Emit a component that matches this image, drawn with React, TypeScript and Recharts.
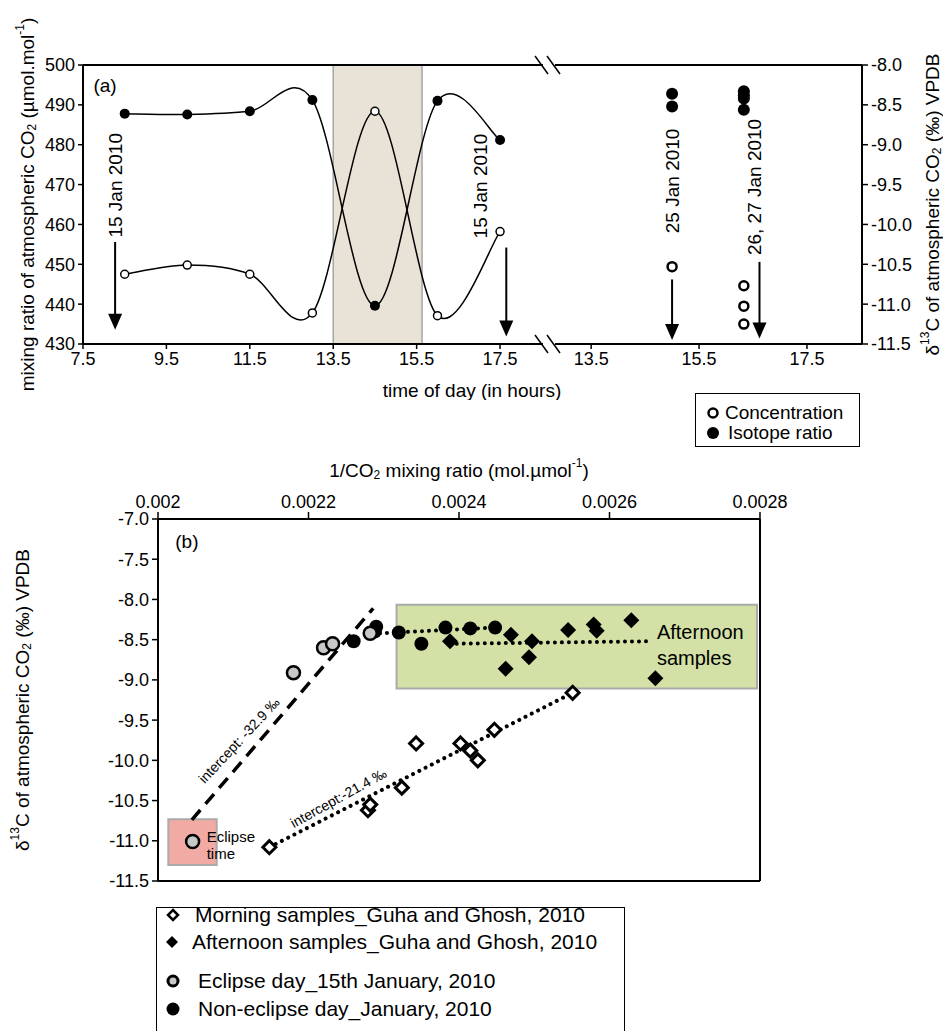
import React from 'react'
import {
  ComposedChart,
  Line,
  Scatter,
  XAxis,
  YAxis,
  ReferenceArea,
  ReferenceLine,
} from 'recharts'

const FONT = '"Liberation Sans", Arial, Helvetica, sans-serif'

// panel (a): eclipse day, 15 Jan 2010
const hours15 = [8.5, 10, 11.5, 13, 14.5, 16, 17.5]
const conc15 = [447.5, 449.8, 447.5, 437.8, 488.4, 437.1, 458.2]
const iso15 = [-8.61, -8.62, -8.58, -8.44, -11.02, -8.45, -8.94]

// panel (a), right of the axis break: 25 Jan and 26/27 Jan
const hoursLate = [15.0, 16.33]
const concLate = [[449.4], [444.6, 439.5, 435.0]]
const isoLate = [[-8.36, -8.52], [-8.33, -8.38, -8.42, -8.56]]

const eclipseWindow = [13.5, 15.63]

const hourTicksLeft = [7.5, 9.5, 11.5, 13.5, 15.5, 17.5]
const hourTicksRight = [13.5, 15.5, 17.5]
const concTicks = [430, 440, 450, 460, 470, 480, 490, 500]
const isoTicks = [-8, -8.5, -9, -9.5, -10, -10.5, -11, -11.5]

// date arrows and labels (time, conc-axis value)
const arrowsLeft = [
  { t: 8.27, from: 455.6, to: 433.6 },
  { t: 17.65, from: 454.2, to: 431.9 },
]
const notesLeft = [
  { t: 8.29, v: 456.7, text: '15 Jan 2010' },
  { t: 17.03, v: 456.5, text: '15 Jan 2010' },
]
const arrowsRight = [
  { t: 15.0, from: 446.2, to: 431.0 },
  { t: 16.62, from: 450.6, to: 431.4 },
]
const notesRight = [
  { t: 15.0, v: 457.8, text: '25 Jan 2010' },
  { t: 16.53, v: 452.3, text: '26, 27 Jan 2010' },
]

// panel (b): 1/CO2 vs delta13C
const morningSamples = [
  [0.002148, -11.08], [0.002279, -10.62], [0.002282, -10.55], [0.002324, -10.34],
  [0.002343, -9.79], [0.002402, -9.79], [0.002415, -9.88], [0.002425, -10.0],
  [0.002447, -9.62], [0.002551, -9.16],
]
const afternoonSamples = [
  [0.002388, -8.52], [0.002469, -8.44], [0.002462, -8.86], [0.002497, -8.52],
  [0.002493, -8.72], [0.002545, -8.38], [0.002579, -8.31], [0.002583, -8.39],
  [0.002629, -8.26], [0.002661, -8.98],
]
const eclipseDay = [
  [0.002046, -11.01], [0.00218, -8.91], [0.00222, -8.6], [0.002232, -8.55],
  [0.002282, -8.42],
]
const nonEclipseDay = [
  [0.00226, -8.52], [0.00229, -8.34], [0.002288, -8.4], [0.00232, -8.41],
  [0.00235, -8.55], [0.002382, -8.35], [0.002415, -8.36], [0.002448, -8.35],
]

const eclipseFit = [[0.002045, -10.74], [0.002286, -8.11]]
const morningFit = [[0.002148, -11.08], [0.002551, -9.16]]
const afternoonFitUpper = [[0.002295, -8.42], [0.002448, -8.35]]
const afternoonFitLower = [[0.002397, -8.55], [0.002653, -8.52]]

const invTicks = [0.002, 0.0022, 0.0024, 0.0026, 0.0028]
const deltaTicks = [-7, -7.5, -8, -8.5, -9, -9.5, -10, -10.5, -11, -11.5]

const afternoonBox = { x1: 0.002317, x2: 0.002796, y1: -9.108, y2: -8.066 }
const eclipseBox = { x1: 0.0020137, x2: 0.002078, y1: -11.3, y2: -10.733 }

const interceptNotes = [
  { x: 0.0021076, y: -9.75, text: 'intercept:   -32.9 ‰', angle: -47 },
  { x: 0.0022396, y: -10.466, text: 'intercept:-21.4 ‰', angle: -29 },
]
const boxNotes = [
  { x: 0.0020647, y: -10.945, text: 'Eclipse' },
  { x: 0.0020647, y: -11.157, text: 'time' },
]
const afternoonNotes = [
  { x: 0.002663, y: -8.405, text: 'Afternoon' },
  { x: 0.002663, y: -8.728, text: 'samples' },
]

const toXY = (rows: number[][]) => rows.map(([x, y]) => ({ x, y }))
const toTV = (ts: number[], vs: number[]) => ts.map((t, i) => ({ t, v: vs[i] }))

// spreadsheet-style smoothed line (Catmull-Rom bezier through the points)
function smoothCurve(context: any) {
  let pts: number[][] = []
  return {
    areaStart() {},
    areaEnd() {},
    lineStart() {
      pts = []
    },
    lineEnd() {
      const n = pts.length
      if (!n) return
      context.moveTo(pts[0][0], pts[0][1])
      for (let i = 0; i < n - 1; i++) {
        const p0 = pts[Math.max(i - 1, 0)]
        const p1 = pts[i]
        const p2 = pts[i + 1]
        const p3 = pts[Math.min(i + 2, n - 1)]
        context.bezierCurveTo(
          p1[0] + (p2[0] - p0[0]) / 6,
          p1[1] + (p2[1] - p0[1]) / 6,
          p2[0] - (p3[0] - p1[0]) / 6,
          p2[1] - (p3[1] - p1[1]) / 6,
          p2[0],
          p2[1],
        )
      }
    },
    point(x: number, y: number) {
      pts.push([+x, +y])
    },
  }
}

const axisLine = { stroke: '#000', strokeWidth: 2 }
const tickLine = { stroke: '#000', strokeWidth: 1.5 }
const tick = { fill: '#000', fontSize: 18, fontFamily: FONT }

const openDot = (p: any) => (
  <circle key={`o${p.index}`} cx={p.cx} cy={p.cy} r={4} fill="#fff" stroke="#000" strokeWidth={1.5} />
)
const fullDot = (p: any) => (
  <circle key={`f${p.index}`} cx={p.cx} cy={p.cy} r={5} fill="#000" />
)
const openRing = (p: any) => (
  <circle cx={p.cx} cy={p.cy} r={4.5} fill="#fff" stroke="#000" strokeWidth={2.5} />
)
const fullRing = (p: any) => <circle cx={p.cx} cy={p.cy} r={6} fill="#000" />
const arrowHead = (p: any) => (
  <path d={`M${p.cx},${p.cy} L${p.cx - 7},${p.cy - 16} L${p.cx + 7},${p.cy - 16} Z`} fill="#000" />
)
const verticalNote = (p: any) => (
  <text
    x={p.cx}
    y={p.cy}
    transform={`rotate(-90 ${p.cx} ${p.cy})`}
    textAnchor="start"
    dominantBaseline="central"
    fontSize={19}
    fontFamily={FONT}
    fill="#000"
  >
    {p.payload.text}
  </text>
)
const panelTag = (p: any) => (
  <text x={p.cx} y={p.cy} dominantBaseline="central" fontSize={19} fontFamily={FONT} fill="#000">
    {p.payload.text}
  </text>
)
const smallNote = (p: any) => (
  <text x={p.cx} y={p.cy} dominantBaseline="central" fontSize={15} fontFamily={FONT} fill="#000">
    {p.payload.text}
  </text>
)
const largeNote = (p: any) => (
  <text x={p.cx} y={p.cy} dominantBaseline="central" fontSize={20} fontFamily={FONT} fill="#000">
    {p.payload.text}
  </text>
)
const slantNote = (p: any) => (
  <text
    x={p.cx}
    y={p.cy}
    transform={`rotate(${p.payload.angle} ${p.cx} ${p.cy})`}
    textAnchor="middle"
    dominantBaseline="central"
    fontSize={14}
    fontFamily={FONT}
    fill="#000"
  >
    {p.payload.text}
  </text>
)
const openDiamond = (p: any) => (
  <path
    d={`M${p.cx},${p.cy - 6.5} L${p.cx + 6.5},${p.cy} L${p.cx},${p.cy + 6.5} L${p.cx - 6.5},${p.cy} Z`}
    fill="#fff"
    stroke="#000"
    strokeWidth={3}
  />
)
const fullDiamond = (p: any) => (
  <path
    d={`M${p.cx},${p.cy - 8} L${p.cx + 8},${p.cy} L${p.cx},${p.cy + 8} L${p.cx - 8},${p.cy} Z`}
    fill="#000"
  />
)
const grayCircle = (p: any) => (
  <circle cx={p.cx} cy={p.cy} r={6.5} fill="#c8c8c8" stroke="#000" strokeWidth={2.5} />
)
const blackCircle = (p: any) => <circle cx={p.cx} cy={p.cy} r={7} fill="#000" />

function ConcTitle({ viewBox }: any) {
  const x = viewBox.x + 27
  const y = viewBox.y + viewBox.height / 2
  return (
    <text x={x} y={y} transform={`rotate(-90 ${x} ${y})`} textAnchor="middle" dominantBaseline="central" fontSize={19} fontFamily={FONT} fill="#000">
      mixing ratio of atmospheric CO<tspan dy={5} fontSize={12}>2</tspan>
      <tspan dy={-5}> (µmol.mol</tspan>
      <tspan dy={-7} fontSize={12}>-1</tspan>
      <tspan dy={7}>)</tspan>
    </text>
  )
}

function DeltaTitle({ viewBox, dx }: any) {
  const x = viewBox.x + dx
  const y = viewBox.y + viewBox.height / 2
  return (
    <text x={x} y={y} transform={`rotate(-90 ${x} ${y})`} textAnchor="middle" dominantBaseline="central" fontSize={19} fontFamily={FONT} fill="#000">
      δ<tspan dy={-7} fontSize={12}>13</tspan>
      <tspan dy={7}>C of atmospheric CO</tspan>
      <tspan dy={5} fontSize={12}>2</tspan>
      <tspan dy={-5}> (‰) VPDB</tspan>
    </text>
  )
}

function InvTitle({ viewBox }: any) {
  const x = viewBox.x + viewBox.width / 2
  const y = viewBox.y - 19
  return (
    <text x={x} y={y} textAnchor="middle" dominantBaseline="central" fontSize={19} fontFamily={FONT} fill="#000">
      1/CO<tspan dy={5} fontSize={12}>2</tspan>
      <tspan dy={-5}> mixing ratio (mol.µmol</tspan>
      <tspan dy={-7} fontSize={12}>-1</tspan>
      <tspan dy={7}>)</tspan>
    </text>
  )
}

function LegendDot({ kind }: { kind: string }) {
  return (
    <svg width={20} height={20} style={{ position: 'absolute', left: -10, top: -10 }}>
      {kind === 'open' && <circle cx={10} cy={10} r={4.5} fill="#fff" stroke="#000" strokeWidth={2.5} />}
      {kind === 'full' && <circle cx={10} cy={10} r={6} fill="#000" />}
      {kind === 'openDiamond' && <path d="M10,5 L15,10 L10,15 L5,10 Z" fill="#fff" stroke="#000" strokeWidth={2.5} />}
      {kind === 'fullDiamond' && <path d="M10,4 L16,10 L10,16 L4,10 Z" fill="#000" />}
      {kind === 'gray' && <circle cx={10} cy={10} r={5} fill="#c8c8c8" stroke="#000" strokeWidth={3} />}
      {kind === 'black' && <circle cx={10} cy={10} r={6.5} fill="#000" />}
    </svg>
  )
}

function LegendRow({ kind, label, mx, tx, y, size }: any) {
  return (
    <>
      <div style={{ position: 'absolute', left: mx, top: y }}>
        <LegendDot kind={kind} />
      </div>
      <div style={{ position: 'absolute', left: tx, top: y - size * 0.6, fontSize: size, lineHeight: `${size * 1.2}px`, whiteSpace: 'nowrap' }}>
        {label}
      </div>
    </>
  )
}

export default function App() {
  const concPts = toTV(hours15, conc15)
  const isoPts = toTV(hours15, iso15)
  const concLatePts = hoursLate.flatMap((t, i) => concLate[i].map((v) => ({ t, v })))
  const isoLatePts = hoursLate.flatMap((t, i) => isoLate[i].map((v) => ({ t, v })))

  return (
    <div
      style={{
        position: 'absolute',
        left: 0,
        top: 0,
        width: 943,
        height: 1031,
        overflow: 'hidden',
        background: '#fff',
        fontFamily: FONT,
        color: '#000',
      }}
    >
      {/* panel (a), before the break */}
      <div style={{ position: 'absolute', left: 0, top: 0 }}>
        <ComposedChart width={560} height={400} margin={{ top: 65, right: 17, bottom: 26, left: 0 }}>
          <XAxis
            type="number"
            dataKey="t"
            domain={[7.5, 18.53]}
            ticks={hourTicksLeft}
            interval={0}
            allowDataOverflow
            height={30}
            tickSize={5}
            tickMargin={3}
            axisLine={axisLine}
            tickLine={tickLine}
            tick={tick}
          />
          <YAxis
            yAxisId="conc"
            type="number"
            dataKey="v"
            domain={[430, 500]}
            ticks={concTicks}
            interval={0}
            allowDataOverflow
            width={83}
            tickSize={5}
            tickMargin={3}
            axisLine={axisLine}
            tickLine={tickLine}
            tick={tick}
            label={<ConcTitle />}
          />
          <YAxis yAxisId="iso" type="number" dataKey="v" domain={[-11.5, -8]} allowDataOverflow hide />
          <ReferenceArea
            yAxisId="conc"
            x1={eclipseWindow[0]}
            x2={eclipseWindow[1]}
            y1={430}
            y2={500}
            fill="#e8e2d7"
            fillOpacity={1}
            stroke="#a6a6a6"
            strokeWidth={1.5}
          />
          <ReferenceLine yAxisId="conc" y={500} stroke="#000" strokeWidth={2} />
          {arrowsLeft.map((a, i) => (
            <ReferenceLine
              key={`al${i}`}
              yAxisId="conc"
              segment={[{ x: a.t, y: a.from }, { x: a.t, y: a.to + 2 }]}
              stroke="#000"
              strokeWidth={2}
            />
          ))}
          <Scatter yAxisId="conc" data={arrowsLeft.map((a) => ({ t: a.t, v: a.to }))} shape={arrowHead} isAnimationActive={false} />
          <Scatter yAxisId="conc" data={notesLeft} shape={verticalNote} isAnimationActive={false} />
          <Scatter yAxisId="conc" data={[{ t: 7.75, v: 494.8, text: '(a)' }]} shape={panelTag} isAnimationActive={false} />
          <Line yAxisId="conc" data={concPts} dataKey="v" type={smoothCurve as any} stroke="#000" strokeWidth={1.5} dot={openDot} isAnimationActive={false} />
          <Line yAxisId="iso" data={isoPts} dataKey="v" type={smoothCurve as any} stroke="#000" strokeWidth={1.5} dot={fullDot} isAnimationActive={false} />
        </ComposedChart>
      </div>

      {/* panel (a), after the break */}
      <div style={{ position: 'absolute', left: 540, top: 0 }}>
        <ComposedChart width={403} height={400} margin={{ top: 65, right: 0, bottom: 26, left: 15 }}>
          <XAxis
            type="number"
            dataKey="t"
            domain={[12.83, 18.52]}
            ticks={hourTicksRight}
            interval={0}
            allowDataOverflow
            height={30}
            tickSize={5}
            tickMargin={3}
            axisLine={axisLine}
            tickLine={tickLine}
            tick={tick}
          />
          <YAxis yAxisId="conc" type="number" dataKey="v" domain={[430, 500]} allowDataOverflow hide />
          <YAxis
            yAxisId="iso"
            orientation="right"
            type="number"
            dataKey="v"
            domain={[-11.5, -8]}
            ticks={isoTicks}
            interval={0}
            allowDataOverflow
            width={81}
            tickSize={6}
            tickMargin={3}
            tickFormatter={(v: number) => v.toFixed(1)}
            axisLine={axisLine}
            tickLine={tickLine}
            tick={tick}
            label={<DeltaTitle dx={70} />}
          />
          <ReferenceLine yAxisId="conc" y={500} stroke="#000" strokeWidth={2} />
          {arrowsRight.map((a, i) => (
            <ReferenceLine
              key={`ar${i}`}
              yAxisId="conc"
              segment={[{ x: a.t, y: a.from }, { x: a.t, y: a.to + 2 }]}
              stroke="#000"
              strokeWidth={2}
            />
          ))}
          <Scatter yAxisId="conc" data={arrowsRight.map((a) => ({ t: a.t, v: a.to }))} shape={arrowHead} isAnimationActive={false} />
          <Scatter yAxisId="conc" data={notesRight} shape={verticalNote} isAnimationActive={false} />
          <Scatter yAxisId="conc" data={concLatePts} shape={openRing} isAnimationActive={false} />
          <Scatter yAxisId="iso" data={isoLatePts} shape={fullRing} isAnimationActive={false} />
        </ComposedChart>
      </div>

      {/* axis break marks and shared x title */}
      <svg width={943} height={400} style={{ position: 'absolute', left: 0, top: 0, pointerEvents: 'none' }}>
        {[65, 344].map((y) => (
          <g key={y} stroke="#000" strokeWidth={1.5}>
            <line x1={535} y1={y - 9} x2={548} y2={y + 9} />
            <line x1={547} y1={y - 9} x2={560} y2={y + 9} />
          </g>
        ))}
        <text x={472} y={390} textAnchor="middle" dominantBaseline="central" fontSize={19} fontFamily={FONT}>
          time of day (in hours)
        </text>
      </svg>

      {/* legend, panel (a) */}
      <div style={{ position: 'absolute', left: 695, top: 393, width: 163, height: 52, border: '1.5px solid #000' }}>
        <LegendRow kind="open" label="Concentration" mx={17} tx={29} y={19} size={19} />
        <LegendRow kind="full" label="Isotope ratio" mx={17} tx={32} y={39} size={19} />
      </div>

      {/* panel (b) */}
      <div style={{ position: 'absolute', left: 0, top: 440 }}>
        <ComposedChart width={943} height={450} margin={{ top: 49, right: 183, bottom: 9, left: 0 }}>
          <XAxis
            orientation="top"
            type="number"
            dataKey="x"
            domain={[0.002, 0.0028]}
            ticks={invTicks}
            interval={0}
            allowDataOverflow
            height={30}
            tickSize={7}
            tickMargin={4}
            axisLine={axisLine}
            tickLine={tickLine}
            tick={tick}
            label={<InvTitle />}
          />
          <YAxis
            type="number"
            dataKey="y"
            domain={[-11.5, -7]}
            ticks={deltaTicks}
            interval={0}
            allowDataOverflow
            width={158}
            tickSize={6}
            tickMargin={3}
            tickFormatter={(v: number) => v.toFixed(1)}
            axisLine={axisLine}
            tickLine={tickLine}
            tick={tick}
            label={<DeltaTitle dx={22} />}
          />
          <ReferenceArea {...afternoonBox} fill="#d3e1a6" fillOpacity={1} stroke="#aaaaaa" strokeWidth={2} />
          <ReferenceArea {...eclipseBox} fill="#f2aaa5" fillOpacity={1} stroke="#aaaaaa" strokeWidth={2} />
          <ReferenceLine x={0.0028} stroke="#000" strokeWidth={2} />
          <ReferenceLine y={-11.5} stroke="#000" strokeWidth={2} />
          <Line data={toXY(eclipseFit)} dataKey="y" type="linear" stroke="#000" strokeWidth={3.5} strokeDasharray="13 8" dot={false} isAnimationActive={false} />
          <Line data={toXY(morningFit)} dataKey="y" type="linear" stroke="#000" strokeWidth={4} strokeDasharray="0.01 7" strokeLinecap="round" dot={false} isAnimationActive={false} />
          <Line data={toXY(afternoonFitUpper)} dataKey="y" type="linear" stroke="#000" strokeWidth={4} strokeDasharray="0.01 7" strokeLinecap="round" dot={false} isAnimationActive={false} />
          <Line data={toXY(afternoonFitLower)} dataKey="y" type="linear" stroke="#000" strokeWidth={4} strokeDasharray="0.01 7" strokeLinecap="round" dot={false} isAnimationActive={false} />
          <Scatter data={toXY(morningSamples)} shape={openDiamond} isAnimationActive={false} />
          <Scatter data={toXY(afternoonSamples)} shape={fullDiamond} isAnimationActive={false} />
          <Scatter data={toXY(nonEclipseDay)} shape={blackCircle} isAnimationActive={false} />
          <Scatter data={toXY(eclipseDay)} shape={grayCircle} isAnimationActive={false} />
          <Scatter data={interceptNotes} shape={slantNote} isAnimationActive={false} />
          <Scatter data={boxNotes} shape={smallNote} isAnimationActive={false} />
          <Scatter data={afternoonNotes} shape={largeNote} isAnimationActive={false} />
          <Scatter data={[{ x: 0.002023, y: -7.28, text: '(b)' }]} shape={panelTag} isAnimationActive={false} />
        </ComposedChart>
      </div>

      {/* legend, panel (b) */}
      <div style={{ position: 'absolute', left: 156, top: 907, width: 467, height: 140, border: '1.5px solid #000' }}>
        <LegendRow kind="openDiamond" label="Morning samples_Guha and Ghosh, 2010" mx={16} tx={38} y={7} size={21} />
        <LegendRow kind="fullDiamond" label="Afternoon samples_Guha and Ghosh, 2010" mx={15} tx={35} y={34} size={21} />
        <LegendRow kind="gray" label="Eclipse day_15th January, 2010" mx={16} tx={41} y={73} size={21} />
        <LegendRow kind="black" label="Non-eclipse day_January, 2010" mx={16} tx={41} y={101} size={21} />
      </div>
    </div>
  )
}
